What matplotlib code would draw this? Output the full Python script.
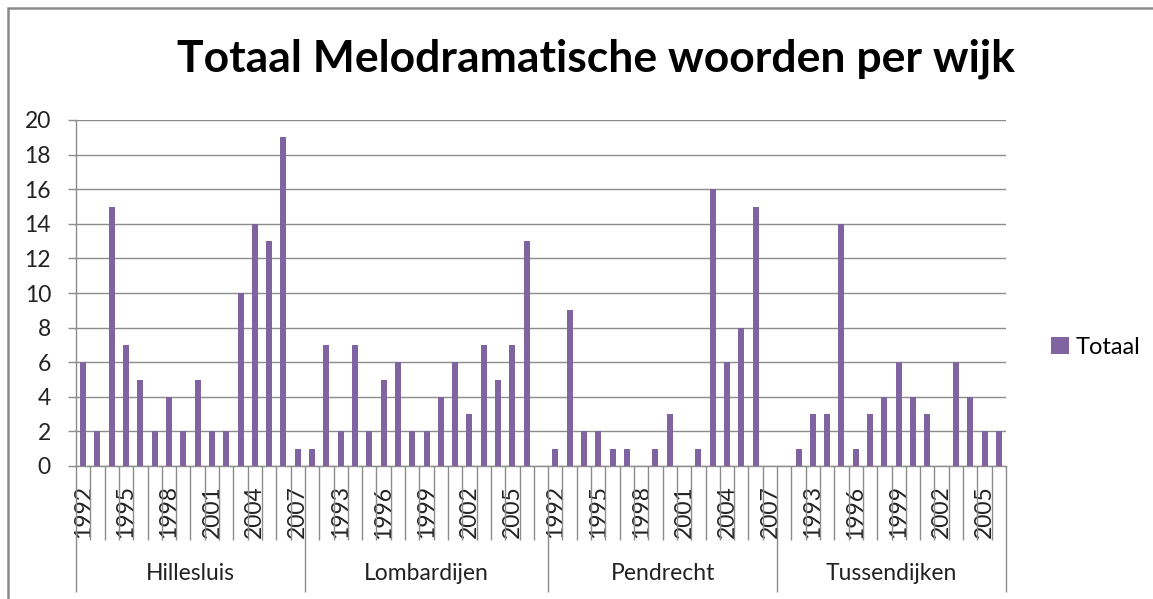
import matplotlib
matplotlib.use("Agg")
import matplotlib.pyplot as plt
import matplotlib.transforms as mtransforms
from matplotlib.patches import Rectangle
import numpy as np

plt.rcParams['font.family'] = ['Lato', 'DejaVu Sans']

title = "Totaal Melodramatische woorden per wijk"
series_name = "Totaal"
wijken = ["Hillesluis", "Lombardijen", "Pendrecht", "Tussendijken"]
years_hillesluis = list(range(1992, 2008))
years_lombardijen = list(range(1991, 2008))
years_pendrecht = list(range(1992, 2008))
years_tussendijken = list(range(1991, 2007))
vals_hillesluis = [6, 2, 15, 7, 5, 2, 4, 2, 5, 2, 2, 10, 14, 13, 19, 1]
vals_lombardijen = [1, 7, 2, 7, 2, 5, 6, 2, 2, 4, 6, 3, 7, 5, 7, 13, 0]
vals_pendrecht = [1, 9, 2, 2, 1, 1, 0, 1, 3, 0, 1, 16, 6, 8, 15, 0]
vals_tussendijken = [0, 1, 3, 3, 14, 1, 3, 4, 6, 4, 3, 0, 6, 4, 2, 2]
yticks = list(range(0, 21, 2))

groups_years = [years_hillesluis, years_lombardijen, years_pendrecht, years_tussendijken]
groups_vals = [vals_hillesluis, vals_lombardijen, vals_pendrecht, vals_tussendijken]

years_all = [y for g in groups_years for y in g]
vals_all = [v for g in groups_vals for v in g]
x = np.arange(len(vals_all))

W, H = 1153, 599
fig = plt.figure(figsize=(W / 100, H / 100), dpi=100)
fig.patch.set_facecolor('white')

# chart border (left and top visible)
fig.add_artist(Rectangle((7.5 / W, -0.2), 1.5, 1.2 - 7.5 / H, transform=fig.transFigure,
                         fill=False, edgecolor='#8a8a8a', linewidth=1.8))

ax_l, ax_r, ax_t, ax_b = 76, 1006, 120, 466
ax = fig.add_axes([ax_l / W, 1 - ax_b / H, (ax_r - ax_l) / W, (ax_b - ax_t) / H])

purple = '#8064A2'
grid_c = '#8c8c8c'
bars = ax.bar(x, vals_all, width=0.42, color=purple, label=series_name, zorder=3)

ax.set_xlim(-0.5, len(vals_all) - 0.5)
ax.set_ylim(0, 20)
ax.set_yticks(yticks)
ax.set_yticklabels([str(t) for t in yticks], fontsize=16.5, color='#222222')
ax.tick_params(axis='y', length=6, width=1, color=grid_c, pad=12)
ax.yaxis.grid(True, color=grid_c, linewidth=1.0, zorder=0)
ax.set_axisbelow(True)

for s in ['top', 'right']:
    ax.spines[s].set_visible(False)
for s in ['left', 'bottom']:
    ax.spines[s].set_color(grid_c)
    ax.spines[s].set_linewidth(1.0)

# year labels every third category
lab_idx = x[::3]
ax.set_xticks(lab_idx)
ax.set_xticklabels([str(years_all[i]) for i in lab_idx], rotation=90, fontsize=16.5, color='#222222')
ax.tick_params(axis='x', length=0, pad=14)

ax_h = ax_b - ax_t
trans = mtransforms.blended_transform_factory(ax.transData, ax.transAxes)

# boundaries
bounds = [-0.5]
for g in groups_vals:
    bounds.append(bounds[-1] + len(g))
group_bounds = set(bounds)
all_bounds = np.arange(-0.5, len(vals_all), 1.0)
small = [b for b in all_bounds if b not in group_bounds]
ax.vlines(small, -(540 - ax_b) / ax_h, 0, transform=trans, colors=grid_c, linewidth=1.0, clip_on=False)
ax.vlines(bounds, -(592 - ax_b) / ax_h, 0, transform=trans, colors=grid_c, linewidth=1.0, clip_on=False)

for i, name in enumerate(wijken):
    cx = (bounds[i] + bounds[i + 1]) / 2
    ax.text(cx, -(573 - ax_b) / ax_h, name, transform=trans, ha='center', va='center',
            fontsize=16.5, color='#222222')

fig.text(596 / W, 1 - 59 / H, title, ha='center', va='center', fontsize=32,
         fontweight='bold', color='black')

leg = ax.legend(handles=[bars], loc='center left', bbox_to_anchor=(1030 / W, 1 - 347 / H),
                bbox_transform=fig.transFigure, frameon=False, fontsize=17,
                handlelength=0.75, handleheight=0.75, handletextpad=0.3)

fig.savefig('out.png', dpi=100, facecolor='white')
